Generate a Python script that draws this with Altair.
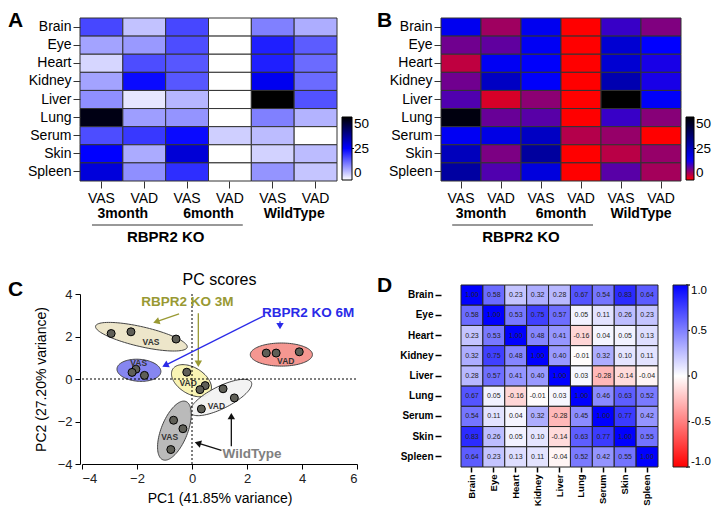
import altair as alt
import numpy as np
import pandas as pd

# ---------------- data ----------------
organs = ["Brain", "Eye", "Heart", "Kidney", "Liver", "Lung", "Serum", "Skin", "Spleen"]
cond_ids = ["VAS|3month", "VAD|3month", "VAS|6month", "VAD|6month", "VAS|WildType", "VAD|WildType"]

# retinoid levels (per organ, order as organs) for each condition
vas_3m = [18, 9, 4, 9, 11, 48, 17.5, 25, 28.5]
vad_3m = [6, 10, 17.5, 24, 2.5, 9.5, 19.5, 8.2, 11]
vas_6m = [18, 17.5, 16.5, 16.5, 7.2, 10.5, 24, 29, 20.5]
vad_6m = [0, 0, 0, 0, 0, 0, 4.7, 0, 0]
vas_wt = [12.5, 22, 22, 26.5, 50, 12.5, 6.6, 4.4, 10.5]
vad_wt = [8, 16, 14.5, 14.5, 17, 7.5, 0, 6.6, 5.7]

group_labels = ["3month", "6month", "WildType"]
group_anchor = ["VAD|3month", "VAD|6month", "VAD|WildType"]

# PCA scores
pc_group = ["KO3M VAS"] * 3 + ["KO6M VAS"] * 3 + ["KO3M VAD"] * 3 + ["KO6M VAD"] * 3 + ["WT VAD"] * 3 + ["WT VAS"] * 3
pc1 = [-2.94, -2.22, -0.58, -2.04, -2.18, -1.73, -0.19, 0.48, 0.29, 2.70, 3.06, 3.90, 1.13, 1.54, 0.34, -0.67, -0.33, -0.77]
pc2 = [2.14, 2.22, 1.88, 0.46, 0.31, 0.17, 0.32, -0.31, -0.50, 1.22, 1.22, 1.28, -0.46, -0.89, -1.41, -1.94, -2.34, -3.32]

# group ellipses (center, semi-axes in PC1 units, tilt in degrees on screen)
ell_name = ["KO3M VAS", "KO6M VAS", "KO3M VAD", "KO6M VAD", "WT VAD", "WT VAS"]
ell_cx = [-1.84, -1.93, -0.02, 3.25, 1.05, -0.64]
ell_cy = [1.99, 0.41, -0.08, 1.15, -0.87, -2.43]
ell_a = [1.71, 0.80, 0.80, 1.13, 1.24, 1.14]
ell_b = [0.36, 0.40, 0.48, 0.42, 0.40, 0.48]
ell_tilt = [-13, -4, -31.5, 0, 26.7, 68.4]
ell_fill = ["#ece4c6", "#7c7cf0", "#f8f3ae", "#f48e88", "#f2f2f2", "#b4b4b4"]

ell_text = ["VAS", "VAS", "VAD", "VAD", "VAD", "VAS"]
ell_tx = [-1.49, -1.94, -0.14, 3.41, 0.89, -0.81]
ell_ty = [1.73, 0.76, -0.18, 0.86, -1.25, -2.71]

ann_text = ["RBPR2 KO 3M", "RBPR2 KO 6M", "WildType"]
ann_x = [-0.17, 4.22, 2.18]
ann_y = [3.61, 3.12, -3.52]
ann_color = ["#999933", "#2a2ae8", "#808080"]

arr_x1 = [-0.47, 0.23, 2.58, 3.20, 1.07, 1.43]
arr_y1 = [3.06, 3.10, 2.95, 2.72, -3.36, -3.17]
arr_x2 = [-1.40, 0.23, -1.07, 3.20, 0.11, 1.43]
arr_y2 = [2.65, 0.58, 0.58, 2.35, -2.98, -1.61]
arr_color = ["#999933", "#999933", "#2a2ae8", "#2a2ae8", "#111111", "#111111"]

# correlation matrix rows
corr_brain = [1.00, 0.58, 0.23, 0.32, 0.28, 0.67, 0.54, 0.83, 0.64]
corr_eye = [0.58, 1.00, 0.53, 0.75, 0.57, 0.05, 0.11, 0.26, 0.23]
corr_heart = [0.23, 0.53, 1.00, 0.48, 0.41, -0.16, 0.04, 0.05, 0.13]
corr_kidney = [0.32, 0.75, 0.48, 1.00, 0.40, -0.01, 0.32, 0.10, 0.11]
corr_liver = [0.28, 0.57, 0.41, 0.40, 1.00, 0.03, -0.28, -0.14, -0.04]
corr_lung = [0.67, 0.05, -0.16, -0.01, 0.03, 1.00, 0.46, 0.63, 0.52]
corr_serum = [0.54, 0.11, 0.04, 0.32, -0.28, 0.45, 1.00, 0.77, 0.42]
corr_skin = [0.83, 0.26, 0.05, 0.10, -0.14, 0.63, 0.77, 1.00, 0.55]
corr_spleen = [0.64, 0.23, 0.13, 0.11, -0.04, 0.52, 0.42, 0.55, 1.00]

corr_ticks = [-1, -0.5, 0, 0.5, 1]
heat_ticks = [0, 25, 50]

FONT = "Liberation Sans"

# ---------------- panels A & B ----------------
heat_cols = [vas_3m, vad_3m, vas_6m, vad_6m, vas_wt, vad_wt]
heat_df = pd.DataFrame(
    [{"cond": c, "organ": o, "val": v} for c, col in zip(cond_ids, heat_cols) for o, v in zip(organs, col)]
)
grp_df = pd.DataFrame({"anchor": group_anchor, "label": group_labels})
ko_df = pd.DataFrame({"anchor": ["VAS|6month"], "label": ["RBPR2 KO"]})
one_df = pd.DataFrame({"k": [0]})

HEAT_H = 163
LEG_Y, LEG_LEN = 99, 63


def letter_mark(letter, x, y):
    return alt.Chart(one_df).mark_text(text=letter, fontSize=21, fontWeight="bold", align="left",
                                       baseline="top", color="black").encode(
        x=alt.value(x), y=alt.value(y)
    )


def heatmap(letter, width, cscale, legend_x, thick, letter_x):
    cw = width / 6.0
    axx = alt.Axis(labelExpr="split(datum.value, '|')[0]", labelAngle=0, labelFontSize=14,
                   labelColor="black", tickSize=7, tickColor="#333", domain=False, labelPadding=3)
    axy = alt.Axis(labelFontSize=14, labelColor="black", tickSize=7, tickColor="#333",
                   domain=False, labelPadding=2)
    xs = alt.Scale(domain=cond_ids)
    ys = alt.Scale(domain=organs)
    rect = alt.Chart(heat_df).mark_rect(stroke="#333", strokeWidth=1).encode(
        x=alt.X("cond:N", scale=xs, title=None, axis=axx),
        y=alt.Y("organ:N", scale=ys, title=None, axis=axy),
        color=alt.Color("val:Q", scale=cscale,
                        legend=alt.Legend(title=None, orient="none", legendX=legend_x, legendY=LEG_Y,
                                          direction="vertical", gradientLength=LEG_LEN,
                                          gradientThickness=thick, gradientStrokeColor="black",
                                          gradientStrokeWidth=1, values=heat_ticks,
                                          labelFontSize=13.5, labelColor="black", labelOffset=2)),
    )
    grp = alt.Chart(grp_df).mark_text(fontSize=14, fontWeight="bold", baseline="middle",
                                      color="black").encode(
        x=alt.X("anchor:N", scale=xs, title=None, axis=axx, bandPosition=0),
        y=alt.value(196),
        text="label:N",
    )
    ko = alt.Chart(ko_df).mark_text(fontSize=15, fontWeight="bold", baseline="middle",
                                    color="black").encode(
        x=alt.X("anchor:N", scale=xs, title=None, axis=axx, bandPosition=0),
        y=alt.value(219),
        text="label:N",
    )
    line = alt.Chart(one_df).mark_rule(color="#333", strokeWidth=1).encode(
        x=alt.value(0.28 * cw), x2=alt.value(3.8 * cw), y=alt.value(207)
    )
    # small tick on the colour bar at the middle value
    ty = LEG_Y + LEG_LEN * (1 - heat_ticks[1] / heat_ticks[2])
    tick = alt.Chart(one_df).mark_rule(color="black", strokeWidth=1).encode(
        x=alt.value(legend_x + thick - 2), x2=alt.value(legend_x + thick + 2), y=alt.value(ty)
    )
    # invisible anchor fixing the top-left corner of the figure
    anchor = alt.Chart(one_df).mark_rule(opacity=0, strokeOpacity=0).encode(
        x=alt.value(letter_x), x2=alt.value(letter_x + 2), y=alt.value(-10)
    )
    let = letter_mark(letter, letter_x, -8)
    return alt.layer(rect, grp, ko, line, tick, anchor, let).properties(width=width, height=HEAT_H)


chartA = heatmap("A", 257,
                 alt.Scale(domain=[0, 25, 50], range=["#ffffff", "#0000ff", "#000000"], interpolate="rgb"),
                 262, 10, -72)
chartB = heatmap("B", 240,
                 alt.Scale(domain=[0, 16, 50], range=["#ff0000", "#0000ff", "#000000"], interpolate="rgb"),
                 245, 8, -64)

# ---------------- panel C ----------------
C_W = 257
x_lo, x_hi = 2, 277
y_lo, y_hi = 179, 9
C_H = y_lo
sx_px = (x_hi - x_lo) / 10.0
sy_px = (y_lo - y_hi) / 8.0
k = sy_px / sx_px

xs_c = alt.Scale(domain=[-4, 6], range=[x_lo, x_hi], zero=False, nice=False)
ys_c = alt.Scale(domain=[-4, 4], range=[y_lo, y_hi], zero=False, nice=False)
ax_cx = alt.Axis(title="PC1 (41.85% variance)", values=[-4, -2, 0, 2, 4, 6], grid=False,
                 domainColor="black", tickColor="black", labelColor="#222", labelFontSize=13,
                 titleFontSize=14, titleFontWeight="normal", titleColor="black", tickSize=5,
                 labelPadding=3, titlePadding=6, format="d")
ax_cy = alt.Axis(title="PC2 (27.20% variance)", values=[-4, -2, 0, 2, 4], grid=False,
                 domainColor="black", tickColor="black", labelColor="#222", labelFontSize=13,
                 titleFontSize=14, titleFontWeight="normal", titleColor="black", tickSize=5,
                 labelPadding=3, titlePadding=9, format="d")


def CX(f):
    return alt.X(f, scale=xs_c, axis=ax_cx)


def CY(f):
    return alt.Y(f, scale=ys_c, axis=ax_cy)


layers_c = []
t = np.linspace(0, 2 * np.pi, 97)
for name, cx, cy, a, b, tilt, fc in zip(ell_name, ell_cx, ell_cy, ell_a, ell_b, ell_tilt, ell_fill):
    th = np.deg2rad(tilt)
    px = a * np.cos(t) * np.cos(th) - b * np.sin(t) * np.sin(th)
    py = a * np.cos(t) * np.sin(th) + b * np.sin(t) * np.cos(th)
    edf = pd.DataFrame({"x": cx + px, "y": cy + py / k, "i": np.arange(len(t))})
    layers_c.append(
        alt.Chart(edf).mark_line(fill=fc, stroke="#444", strokeWidth=1, fillOpacity=0.92).encode(
            x=CX("x:Q"), y=CY("y:Q"), order="i:Q"
        )
    )

zero_df = pd.DataFrame({"x": [-4, 0], "x2": [6, 0], "y": [0, -4], "y2": [0, 4]})
layers_c.append(
    alt.Chart(zero_df).mark_rule(color="black", strokeDash=[2, 2], strokeWidth=1).encode(
        x=CX("x:Q"), x2="x2:Q", y=CY("y:Q"), y2="y2:Q"
    )
)

pts_df = pd.DataFrame({"pc1": pc1, "pc2": pc2, "g": pc_group})
layers_c.append(
    alt.Chart(pts_df).mark_point(filled=True, size=64, fill="#5f5f57", stroke="black",
                                 strokeWidth=1, opacity=1).encode(x=CX("pc1:Q"), y=CY("pc2:Q"))
)

lab_df = pd.DataFrame({"x": ell_tx, "y": ell_ty, "t": ell_text})
layers_c.append(
    alt.Chart(lab_df).mark_text(fontSize=8.5, fontWeight="bold", color="#333").encode(
        x=CX("x:Q"), y=CY("y:Q"), text="t:N"
    )
)

# arrows
rows = []
heads = []
for x1, y1, x2, y2, c in zip(arr_x1, arr_y1, arr_x2, arr_y2, arr_color):
    dxp = (x2 - x1) * sx_px
    dyp = -(y2 - y1) * sy_px
    L = np.hypot(dxp, dyp)
    ux, uy = dxp / L, dyp / L
    hx = x2 - ux * 4 / sx_px
    hy = y2 + uy * 4 / sy_px
    ang = float(np.degrees(np.arctan2(dxp, -dyp)) % 360)
    rows.append({"x": x1, "y": y1, "x2": hx, "y2": hy, "c": c})
    heads.append({"x": hx, "y": hy, "ang": ang, "c": c})
arr_df = pd.DataFrame(rows)
head_df = pd.DataFrame(heads)
layers_c.append(
    alt.Chart(arr_df).mark_rule(strokeWidth=1.3).encode(
        x=CX("x:Q"), x2="x2:Q", y=CY("y:Q"), y2="y2:Q", color=alt.Color("c:N", scale=None)
    )
)
layers_c.append(
    alt.Chart(head_df).mark_point(shape="triangle", filled=True, size=55, opacity=1).encode(
        x=CX("x:Q"), y=CY("y:Q"), angle=alt.Angle("ang:Q", scale=None), color=alt.Color("c:N", scale=None)
    )
)

ann_df = pd.DataFrame({"x": ann_x, "y": ann_y, "t": ann_text, "c": ann_color})
layers_c.append(
    alt.Chart(ann_df).mark_text(fontSize=13.5, fontWeight="bold").encode(
        x=CX("x:Q"), y=CY("y:Q"), text="t:N", color=alt.Color("c:N", scale=None)
    )
)
layers_c.append(
    alt.Chart(one_df).mark_text(text="PC scores", fontSize=16, color="black", baseline="alphabetic").encode(
        x=alt.value((x_lo + x_hi) / 2), y=alt.value(0)
    )
)
layers_c.append(letter_mark("C", -72, -6.5))
chartC = alt.layer(*layers_c).properties(width=C_W, height=C_H)

# ---------------- panel D ----------------
corr_rows = [corr_brain, corr_eye, corr_heart, corr_kidney, corr_liver, corr_lung, corr_serum, corr_skin, corr_spleen]
corr_df = pd.DataFrame(
    [{"row": r, "col": c, "val": v} for r, vals in zip(organs, corr_rows) for c, v in zip(organs, vals)]
)
D_OFF, D_W, D_H = 20, 197, 182
D_LEG_X, D_LEG_T = D_OFF + 212, 15
dsx = alt.Scale(domain=organs, range=[D_OFF, D_OFF + D_W])
dsy = alt.Scale(domain=organs)
ax_dx = alt.Axis(labelAngle=270, labelFontWeight="bold", labelFontSize=9.5, labelColor="black",
                 tickSize=5, tickColor="black", tickWidth=1.5, domain=False, labelPadding=2)
ax_dy = alt.Axis(labelFontWeight="bold", labelFontSize=10, labelColor="black",
                 tickSize=6, tickColor="black", tickWidth=1.5, domain=False, labelPadding=2)
rect_d = alt.Chart(corr_df).mark_rect(stroke="#222", strokeWidth=1).encode(
    x=alt.X("col:N", scale=dsx, title=None, axis=ax_dx),
    y=alt.Y("row:N", scale=dsy, title=None, axis=ax_dy),
    color=alt.Color("val:Q",
                    scale=alt.Scale(domain=[-1, 0, 1], range=["#ff0000", "#ffffff", "#0000ff"], interpolate="rgb"),
                    legend=alt.Legend(title=None, orient="none", legendX=D_LEG_X, legendY=0, direction="vertical",
                                      gradientLength=D_H, gradientThickness=D_LEG_T, gradientStrokeColor="#222",
                                      gradientStrokeWidth=1, values=corr_ticks,
                                      labelExpr="datum.value == 0 ? '0' : (datum.value < 0 ? '-' : '') + format(abs(datum.value), '.1f')",
                                      labelFontSize=11.5, labelColor="black", labelOffset=3)),
)
text_d = alt.Chart(corr_df).transform_calculate(
    lab="(datum.val < 0 ? '-' : '') + format(abs(datum.val), '.2f')"
).mark_text(fontSize=7, color="#222").encode(
    x=alt.X("col:N", scale=dsx, title=None, axis=ax_dx),
    y=alt.Y("row:N", scale=dsy, title=None, axis=ax_dy),
    text="lab:N",
)
tick_df = pd.DataFrame({"v": corr_ticks})
ticks_d = alt.Chart(tick_df).transform_calculate(
    py=f"{D_H} * (1 - (datum.v + 1) / 2)"
).mark_rule(color="black", strokeWidth=1.2).encode(
    x=alt.value(D_LEG_X + D_LEG_T - 2), x2=alt.value(D_LEG_X + D_LEG_T + 2),
    y=alt.Y("py:Q", scale=None)
)
let_d = letter_mark("D", -64, -10.5)
chartD = alt.layer(rect_d, text_d, ticks_d, let_d).properties(width=D_OFF + D_W, height=D_H)

# ---------------- assemble ----------------
chart = alt.concat(
    chartA, chartB, chartC, chartD, columns=2,
    spacing={"row": 104, "column": 104}, bounds="flush",
).resolve_scale(
    color="independent", x="independent", y="independent"
).properties(
    padding={"left": 0, "top": 0, "right": 0, "bottom": 0}
).configure(
    font=FONT
).configure_view(stroke=None)

chart.save("out.html", embed_options={"renderer": "svg", "actions": False})
